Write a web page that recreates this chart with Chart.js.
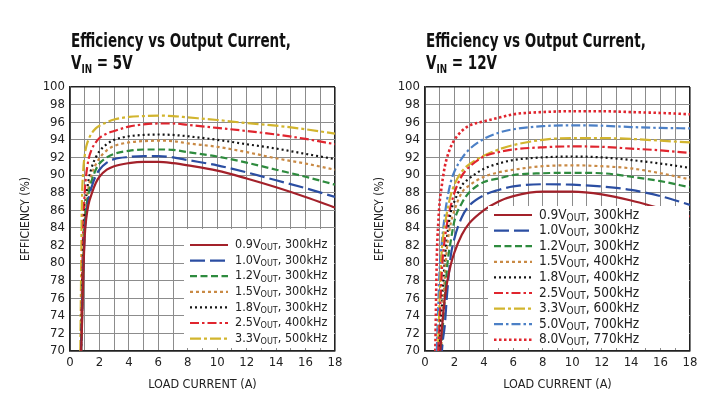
<!DOCTYPE html>
<html lang="en">
<head>
<meta charset="UTF-8"/>
<title>Efficiency vs Output Current</title>
<script src="https://cdn.jsdelivr.net/npm/chart.js"></script>
<style>
  * { box-sizing: border-box; margin: 0; padding: 0; }
  body {
    width: 720px; height: 403px; background: #fff;
    position: relative; overflow: hidden;
    font-family: 'Liberation Sans Narrow', 'DejaVu Sans Condensed', sans-serif;
    color: #111;
  }
  .panel { position: absolute; top: 0; width: 360px; height: 403px; }
  .panel canvas { position: absolute; left: 0; top: 0; }
  .title {
    position: absolute; top: 30px;
    font-weight: bold; font-size: 20px; line-height: 21.5px;
    white-space: nowrap;
    transform: scaleX(0.75); transform-origin: 0 0;
  }
  .title sub { font-size: 13px; vertical-align: -4px; line-height: 0; }
</style>
</head>
<body>

<div class="panel" style="left:0">
  <canvas id="chart5" width="360" height="403"></canvas>
  <div class="title" style="left:71px">Efficiency vs Output Current,<br/>V<sub>IN</sub> = 5V</div>
</div>
<div class="panel" style="left:360px">
  <canvas id="chart12" width="360" height="403"></canvas>
  <div class="title" style="left:66px">Efficiency vs Output Current,<br/>V<sub>IN</sub> = 12V</div>
</div>

<script>
  // ---- data: VIN = 5V ----
  const current5 = [0.7, 0.75, 0.8, 0.9, 1, 1.1, 1.25, 1.5, 1.75, 2, 2.5, 3, 4, 5, 6, 7, 8, 10, 12, 14, 16, 18];
  const vout5 = ['0.9', '1.0', '1.2', '1.5', '1.8', '2.5', '3.3'];
  const freq5 = ['300kHz', '300kHz', '300kHz', '300kHz', '300kHz', '400kHz', '500kHz'];
  const eff5_09 = [null, 70, 72, 78.5, 83, 85, 86.6, 88.0, 89.1, 89.8, 90.6, 91.0, 91.35, 91.5, 91.5, 91.35, 91.1, 90.5, 89.6, 88.6, 87.5, 86.3];
  const eff5_10 = [null, 70, 72.5, 79, 83.5, 85.5, 87.2, 88.8, 89.9, 90.6, 91.4, 91.8, 92.05, 92.15, 92.15, 92.0, 91.7, 91.1, 90.3, 89.4, 88.5, 87.5];
  const eff5_12 = [null, 70, 73, 79.5, 84, 86.2, 87.8, 89.5, 90.6, 91.3, 92.0, 92.4, 92.75, 92.9, 92.9, 92.85, 92.6, 92.1, 91.4, 90.6, 89.8, 88.9];
  const eff5_15 = [null, 70, 73.5, 80, 84.5, 86.7, 88.5, 90.2, 91.2, 91.9, 92.8, 93.3, 93.7, 93.85, 93.9, 93.85, 93.6, 93.2, 92.6, 91.9, 91.3, 90.6];
  const eff5_18 = [null, 70, 74, 81, 85.5, 87.5, 89.3, 91.0, 92.0, 92.7, 93.5, 94.0, 94.4, 94.55, 94.6, 94.55, 94.4, 94.0, 93.5, 93.0, 92.4, 91.8];
  const eff5_25 = [null, 70, 76, 84, 88, 90, 91.7, 93.0, 93.7, 94.2, 94.7, 95.0, 95.5, 95.75, 95.85, 95.85, 95.7, 95.35, 95.0, 94.6, 94.1, 93.5];
  const eff5_33 = [70, 78, 86, 90.5, 92.2, 93.2, 94.0, 94.8, 95.3, 95.6, 96.0, 96.3, 96.6, 96.7, 96.75, 96.7, 96.55, 96.25, 95.9, 95.6, 95.2, 94.7];

  // ---- data: VIN = 12V ----
  const current12 = [0.7, 0.8, 0.9, 1, 1.1, 1.2, 1.35, 1.5, 1.75, 2, 2.5, 3, 4, 5, 6, 8, 10, 12, 14, 16, 18];
  const vout12 = ['0.9', '1.0', '1.2', '1.5', '1.8', '2.5', '3.3', '5.0', '8.0'];
  const freq12 = ['300kHz', '300kHz', '300kHz', '400kHz', '400kHz', '500kHz', '600kHz', '700kHz', '770kHz'];
  const eff12_09 = [null, null, null, 69, 71.5, 73.5, 76, 77.8, 79.8, 81.2, 83.2, 84.5, 86.0, 87.0, 87.6, 88.1, 88.1, 87.8, 87.1, 86.2, 85.3];
  const eff12_10 = [null, null, null, null, 69, 71, 73, 76.5, 80.8, 82.8, 85.2, 86.5, 87.7, 88.3, 88.7, 88.95, 88.9, 88.7, 88.3, 87.6, 86.6];
  const eff12_12 = [null, null, null, null, 70, 72.5, 76, 79.5, 82.5, 84.8, 86.8, 88.0, 89.2, 89.6, 90.0, 90.2, 90.25, 90.2, 89.8, 89.3, 88.6];
  const eff12_15 = [null, null, null, null, 70, 74, 78.5, 81.8, 84.5, 86.0, 88.0, 88.8, 89.8, 90.3, 90.6, 91.0, 91.1, 91.0, 90.75, 90.2, 89.5];
  const eff12_18 = [null, null, null, 70.5, 73.5, 76.5, 80.5, 83, 85.8, 87.0, 88.8, 89.6, 90.7, 91.3, 91.7, 92.0, 92.1, 92.0, 91.7, 91.3, 90.8];
  const eff12_25 = [null, null, 70, 73.5, 77.5, 80.5, 82.8, 84.5, 86.5, 88.0, 89.9, 90.9, 92.1, 92.6, 92.9, 93.15, 93.25, 93.2, 93.0, 92.8, 92.5];
  const eff12_33 = [null, null, 71, 76, 80.3, 82.5, 84.3, 85.8, 87.7, 88.9, 90.4, 91.2, 92.2, 92.9, 93.4, 94.0, 94.2, 94.2, 94.1, 93.9, 93.7];
  const eff12_50 = [null, 70, 75, 79.5, 81.5, 83.3, 85.5, 87.2, 89.2, 90.4, 91.9, 92.9, 94.1, 94.8, 95.2, 95.55, 95.65, 95.6, 95.45, 95.35, 95.3];
  const eff12_80 = [70, 80.5, 84.5, 87, 88.3, 89.5, 91, 92.0, 93.2, 94.0, 95.0, 95.6, 96.1, 96.5, 96.9, 97.15, 97.25, 97.25, 97.15, 97.05, 96.9];

  // line styles per output voltage
  const lineStyle = {
    '0.9': { color: '#a3212a', dash: [],              width: 2.2 },
    '1.0': { color: '#2b4ea2', dash: [15, 5],         width: 2.2 },
    '1.2': { color: '#2e8b3e', dash: [7, 3.5],        width: 2.2 },
    '1.5': { color: '#c98a45', dash: [3, 3],          width: 2.2 },
    '1.8': { color: '#151515', dash: [2, 3],          width: 2.2 },
    '2.5': { color: '#e0252e', dash: [9, 3, 2.5, 3],  width: 2.2 },
    '3.3': { color: '#d2b52e', dash: [11, 3, 3, 3],   width: 2.2 },
    '5.0': { color: '#4c80c6', dash: [9, 3, 2.5, 3],  width: 2.2 },
    '8.0': { color: '#e0252e', dash: [2.5, 2.5],      width: 2.6 }
  };

  const FONT = "'Liberation Sans Narrow', 'DejaVu Sans Condensed', sans-serif";
  const GRID = '#8c8c8c';
  const FRAME = '#222';

  function points(xs, ys) {
    const out = [];
    xs.forEach((x, i) => { if (ys[i] !== null) out.push({ x: x, y: ys[i] }); });
    return out;
  }

  function makeDatasets(xs, vouts, freqs, series) {
    return vouts.map((v, i) => {
      const st = lineStyle[v];
      return {
        label: v + 'V OUT, ' + freqs[i],
        vout: v, freq: freqs[i],
        data: points(xs, series[i]),
        borderColor: st.color,
        borderDash: st.dash,
        borderWidth: st.width,
        pointRadius: 0,
        fill: false,
        cubicInterpolationMode: 'monotone'
      };
    });
  }

  // legend drawn inside the plot, with subscript "OUT"
  const insideLegend = {
    id: 'insideLegend',
    afterDatasetsDraw(chart, args, opts) {
      const { ctx, chartArea } = chart;
      ctx.save();
      ctx.fillStyle = '#fff';
      ctx.fillRect(opts.left, opts.top, chartArea.right - 1 - opts.left, chartArea.bottom - 3 - opts.top);
      ctx.textBaseline = 'middle';
      ctx.fillStyle = '#222';
      chart.data.datasets.forEach((ds, i) => {
        const y = opts.firstRow + i * opts.rowGap;
        ctx.strokeStyle = ds.borderColor;
        ctx.lineWidth = ds.borderWidth;
        ctx.setLineDash(ds.borderDash);
        ctx.beginPath();
        ctx.moveTo(opts.left + 6, y);
        ctx.lineTo(opts.left + 44, y);
        ctx.stroke();
        ctx.setLineDash([]);
        let x = opts.left + 51;
        ctx.font = opts.size + 'px ' + FONT;
        ctx.fillText(ds.vout + 'V', x, y);
        x += ctx.measureText(ds.vout + 'V').width;
        ctx.font = Math.round(opts.size * 0.75) + 'px ' + FONT;
        ctx.fillText('OUT', x, y + 3);
        x += ctx.measureText('OUT').width;
        ctx.font = opts.size + 'px ' + FONT;
        ctx.fillText(', ' + ds.freq, x, y);
      });
      ctx.restore();
    }
  };

  function edgeColor(lo, hi) {
    return c => (c.tick && (c.tick.value === lo || c.tick.value === hi)) ? FRAME : GRID;
  }
  function edgeWidth(lo, hi) {
    return c => (c.tick && (c.tick.value === lo || c.tick.value === hi)) ? 1.6 : 1;
  }

  function makeChart(id, datasets, yAxisWidth, padRight, titlePad, legendOpts) {
    return new Chart(document.getElementById(id), {
      type: 'line',
      data: { datasets: datasets },
      options: {
        responsive: false,
        animation: false,
        layout: { padding: { top: 87, right: padRight, bottom: 7, left: 0 } },
        scales: {
          x: {
            type: 'linear', min: 0, max: 18,
            afterFit: s => { s.height = 45; },
            grid: { color: edgeColor(0, 18), lineWidth: edgeWidth(0, 18), drawTicks: false },
            border: { color: FRAME, width: 1.6 },
            ticks: {
              stepSize: 1, autoSkip: false, maxRotation: 0, padding: 4,
              color: '#222', font: { family: FONT, size: 13 },
              callback: v => (v % 2 === 0 ? v : '')
            },
            title: {
              display: true, text: 'LOAD CURRENT (A)', color: '#222',
              font: { family: FONT, size: 12.5 }, padding: { top: 0, bottom: 4 }
            }
          },
          y: {
            min: 70, max: 100,
            afterFit: s => { s.width = yAxisWidth; },
            grid: { color: edgeColor(70, 100), lineWidth: edgeWidth(70, 100), drawTicks: false },
            border: { color: FRAME, width: 1.6 },
            ticks: {
              stepSize: 2, autoSkip: false, padding: 5,
              color: '#222', font: { family: FONT, size: 13 }
            },
            title: {
              display: true, text: 'EFFICIENCY (%)', color: '#222',
              font: { family: FONT, size: 12 }, padding: { top: titlePad, bottom: 0 }
            }
          }
        },
        plugins: {
          legend: { display: false },
          tooltip: { enabled: false },
          insideLegend: legendOpts
        }
      },
      plugins: [insideLegend]
    });
  }

  makeChart('chart5',
    makeDatasets(current5, vout5, freq5, [eff5_09, eff5_10, eff5_12, eff5_15, eff5_18, eff5_25, eff5_33]),
    70, 25, 19,
    { left: 184, top: 229, firstRow: 245, rowGap: 15.6, size: 12.5 });

  makeChart('chart12',
    makeDatasets(current12, vout12, freq12, [eff12_09, eff12_10, eff12_12, eff12_15, eff12_18, eff12_25, eff12_33, eff12_50, eff12_80]),
    65, 30, 13,
    { left: 128, top: 206, firstRow: 215, rowGap: 15.6, size: 13.5 });
</script>
</body>
</html>
